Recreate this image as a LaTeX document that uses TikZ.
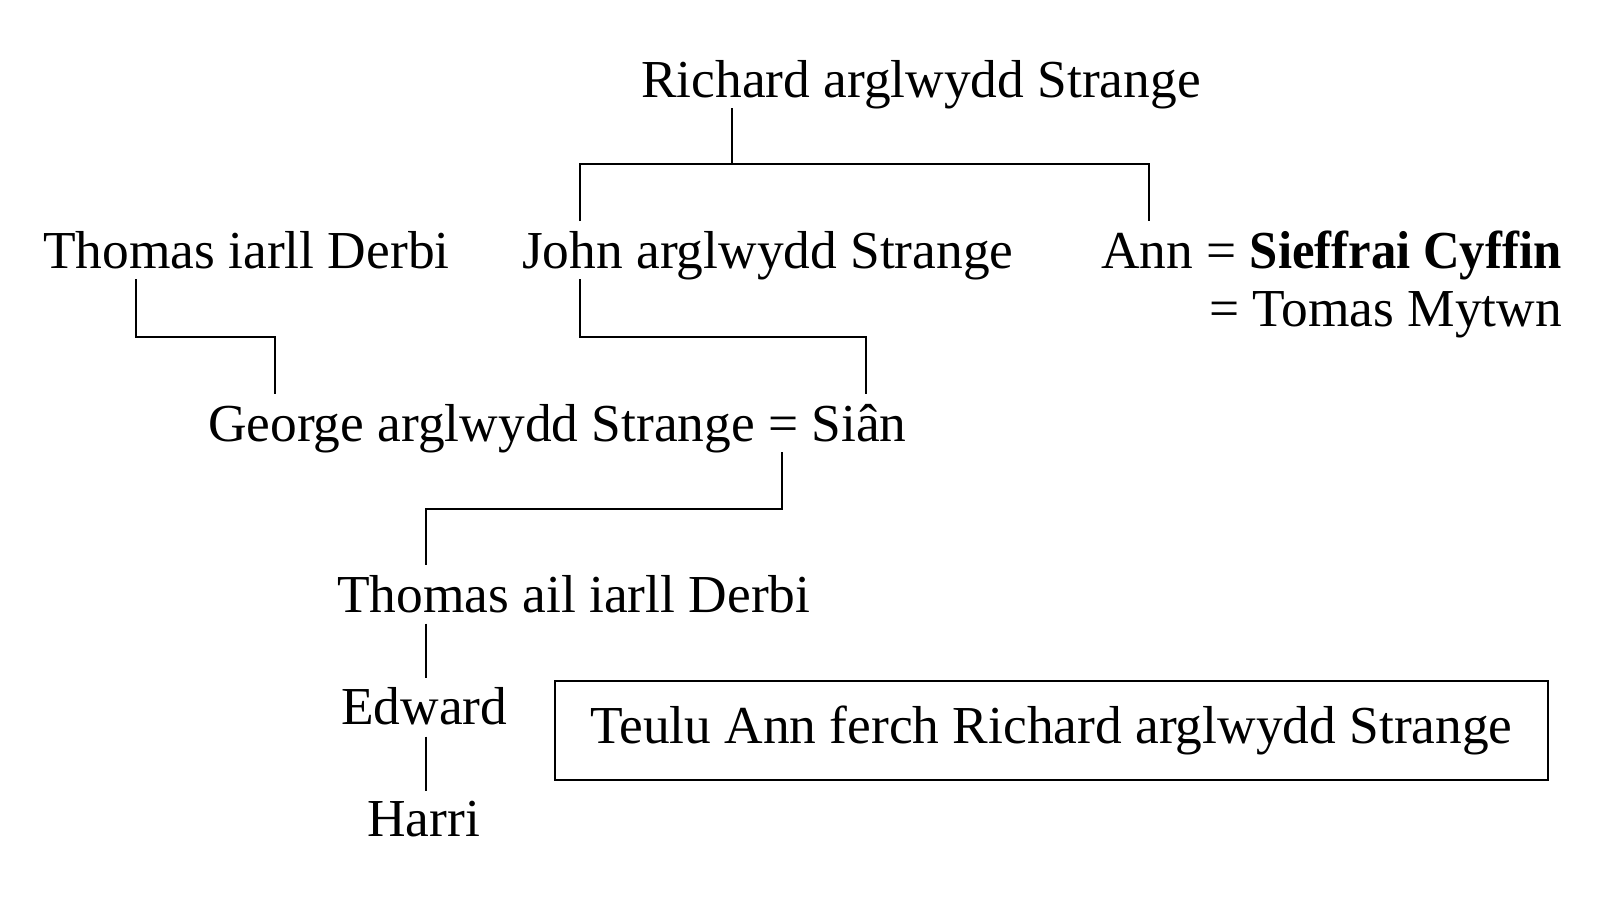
\documentclass[tikz,border=0pt]{standalone}
\usepackage{fontspec}
\setmainfont{Liberation Serif}
\begin{document}
\begin{tikzpicture}[x=1pt,y=-1pt,
  lbl/.style={inner sep=0pt,anchor=base west,font=\fontsize{53.4}{60}\selectfont},
  conn/.style={line width=2pt}]
\useasboundingbox (0,0) rectangle (1611,899);
\node[lbl] (richard) at (641,97) {Richard arglwydd Strange};
\node[lbl] (thomas) at (43,268) {Thomas iarll Derbi};
\node[lbl] (john) at (522,268) {John arglwydd Strange};
\node[lbl] (ann) at (1101,268) {Ann = \scalebox{0.95}[1]{\textbf{Sieffrai Cyffin}}};
\node[lbl] (tomas) at (1209,326) {= Tomas Mytwn};
\node[lbl] (george) at (208,441) {George arglwydd Strange = Siân};
\node[lbl] (thomas2) at (337,612) {Thomas ail iarll Derbi};
\node[lbl] (edward) at (341,724) {Edward};
\node[lbl] (harri) at (367,836) {Harri};
\node[draw,line width=2pt,minimum width=993pt,minimum height=99pt,inner sep=0pt,
  font=\fontsize{53.4}{60}\selectfont] (box) at (1051.5,730.5) {Teulu Ann ferch Richard arglwydd Strange};
% connectors
\coordinate (r0) at (731.5,108);
\coordinate (r1) at (731.5,164);
\coordinate (rl) at (579.5,164);
\coordinate (rr) at (1148.6,164);
\coordinate (jt) at (579.5,221);
\coordinate (at) at (1148.6,221);
\draw[conn] (r0) -- (r1);
\draw[conn] (jt) -- (rl) -- (rr) -- (at);
\coordinate (t0) at (135.6,279);
\coordinate (t1) at (135.6,337);
\coordinate (t2) at (275,337);
\coordinate (g1) at (275,393.5);
\draw[conn] (t0) -- (t1) -- (t2) -- (g1);
\coordinate (j0) at (579.5,279);
\coordinate (j1) at (579.5,337);
\coordinate (j2) at (866,337);
\coordinate (g2) at (866,393.5);
\draw[conn] (j0) -- (j1) -- (j2) -- (g2);
\coordinate (s0) at (782,452);
\coordinate (s1) at (782,508.6);
\coordinate (s2) at (426.4,508.6);
\coordinate (s3) at (426.4,565);
\draw[conn] (s0) -- (s1) -- (s2) -- (s3);
\coordinate (e0) at (426.4,623.6);
\coordinate (e1) at (426.4,678);
\draw[conn] (e0) -- (e1);
\coordinate (h0) at (426.4,736.6);
\coordinate (h1) at (426.4,791);
\draw[conn] (h0) -- (h1);
\end{tikzpicture}
\end{document}
